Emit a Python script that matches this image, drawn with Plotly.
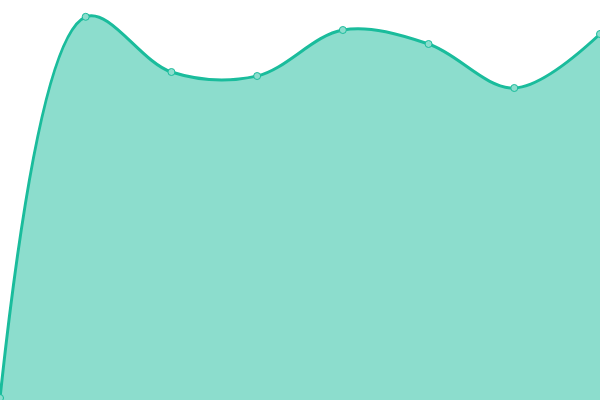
import plotly.graph_objects as go

# data
x_vals = [0, 1, 2, 3, 4, 5, 6, 7]
y_vals = [0.5, 95.8, 82, 81, 92.5, 89, 78, 91.5]

fig = go.Figure()
fig.add_trace(go.Scatter(
    x=x_vals,
    y=y_vals,
    mode="lines+markers",
    fill="tozeroy",
    fillcolor="rgba(26,188,156,0.5)",
    line=dict(color="#1abc9c", width=3, shape="spline", smoothing=1),
    marker=dict(size=7, color="rgba(140,221,205,1)", line=dict(color="#1abc9c", width=1)),
    cliponaxis=False,
    hoverinfo="x+y",
))

fig.update_layout(
    width=600,
    height=400,
    margin=dict(l=0, r=0, t=0, b=0, pad=0, autoexpand=False),
    paper_bgcolor="white",
    plot_bgcolor="white",
    showlegend=False,
    xaxis=dict(visible=False, range=[0, 7]),
    yaxis=dict(visible=False, range=[0, 100]),
)

# drop the browser's default body margin so the chart sits flush in the window
fig.write_html(
    "out.html",
    config={"displayModeBar": False},
    post_script="document.body.style.margin='0';document.body.style.overflow='hidden';",
)
